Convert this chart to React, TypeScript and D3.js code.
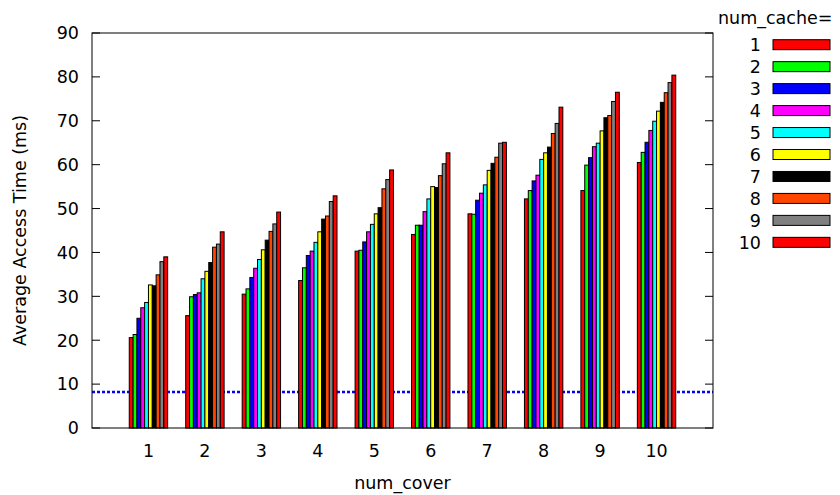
import React from "react";
import * as d3 from "d3";

const covers = [1, 2, 3, 4, 5, 6, 7, 8, 9, 10];
const cacheLabels = ["1", "2", "3", "4", "5", "6", "7", "8", "9", "10"];
const colors = ["#ff0000", "#00ff00", "#0000ff", "#ff00ff", "#00ffff", "#ffff00", "#000000", "#ff4500", "#808080", "#ff0000"];
// values[coverIndex][cacheIndex]
const values = [
  [20.6, 21.3, 25.0, 27.4, 28.6, 32.6, 32.4, 34.9, 37.9, 39.0],
  [25.6, 29.9, 30.4, 30.8, 34.0, 35.7, 37.7, 41.2, 41.9, 44.7],
  [30.5, 31.7, 34.3, 36.4, 38.4, 40.6, 42.8, 44.8, 46.5, 49.2],
  [33.6, 36.5, 39.3, 40.3, 42.3, 44.7, 47.6, 48.3, 51.6, 52.9],
  [40.3, 40.5, 42.4, 44.7, 46.4, 48.8, 50.2, 54.5, 56.6, 58.8],
  [44.1, 46.2, 46.2, 49.3, 52.2, 55.0, 54.8, 57.5, 60.2, 62.7],
  [48.8, 48.7, 51.9, 53.5, 55.4, 58.7, 60.3, 61.7, 64.9, 65.1],
  [52.2, 54.1, 56.3, 57.6, 61.2, 62.7, 64.0, 67.1, 69.4, 73.1],
  [54.1, 59.9, 61.6, 64.1, 64.9, 67.7, 70.7, 71.2, 74.4, 76.5],
  [60.5, 62.8, 65.1, 67.8, 69.9, 72.2, 74.2, 76.4, 78.7, 80.4],
];
const yTicks = [0, 10, 20, 30, 40, 50, 60, 70, 80, 90];
const baseline = 8.2;

const W = 840, H = 495;
const L = 92, R = 713, T = 33, B = 428;
const font = "DejaVu Sans, sans-serif";
const fs = 17.5;

export default function App() {
  const x = d3.scaleLinear().domain([0, 11]).range([L, R]);
  const y = d3.scaleLinear().domain([0, 90]).range([B, T]);
  const groupW = 0.68;
  const band = d3.scaleBand<number>().domain(d3.range(10)).range([-groupW / 2, groupW / 2]).padding(0);
  const bw = x(band.bandwidth()) - x(0);

  return (
    <svg width={W} height={H} style={{ position: "absolute", left: 0, top: 0, background: "#fff" }} fontFamily={font}>
      <rect x={0} y={0} width={W} height={H} fill="#fff" />
      {/* baseline dashed */}
      <line x1={L} x2={R} y1={y(baseline)} y2={y(baseline)} stroke="#0000ff" strokeWidth={2.5} strokeDasharray="3,2" />
      {/* bars */}
      {values.map((row, gi) =>
        row.map((v, si) => {
          const x0 = x(covers[gi] + (band(si) as number));
          return (
            <rect key={`${gi}-${si}`} x={x0} y={y(v)} width={bw} height={y(0) - y(v)} fill={colors[si]} stroke="#000" strokeWidth={1} />
          );
        })
      )}
      {/* frame */}
      <rect x={L} y={T} width={R - L} height={B - T} fill="none" stroke="#000" strokeWidth={1} />
      {/* y ticks */}
      {yTicks.map((t) => (
        <g key={t}>
          <line x1={L} x2={L + 8} y1={y(t)} y2={y(t)} stroke="#000" />
          <line x1={R} x2={R - 8} y1={y(t)} y2={y(t)} stroke="#000" />
          <text x={79} y={y(t)} dy="0.36em" textAnchor="end" fontSize={fs}>{t}</text>
        </g>
      ))}
      {/* x tick labels */}
      {covers.map((c) => (
        <text key={c} x={x(c)} y={457} textAnchor="middle" fontSize={fs}>{c}</text>
      ))}
      <text x={(L + R) / 2} y={489} textAnchor="middle" fontSize={fs}>num_cover</text>
      <text transform={`translate(26,${(T + B) / 2}) rotate(-90)`} textAnchor="middle" fontSize={fs}>Average Access Time (ms)</text>
      {/* legend */}
      <text x={718} y={24} fontSize={fs}>num_cache=</text>
      {cacheLabels.map((lab, i) => {
        const cy = 44.7 + i * 21.96;
        return (
          <g key={i}>
            <text x={761} y={cy} dy="0.36em" textAnchor="end" fontSize={fs}>{lab}</text>
            <rect x={773} y={cy - 5} width={57} height={10} fill={colors[i]} stroke="#000" strokeWidth={1} />
          </g>
        );
      })}
    </svg>
  );
}
